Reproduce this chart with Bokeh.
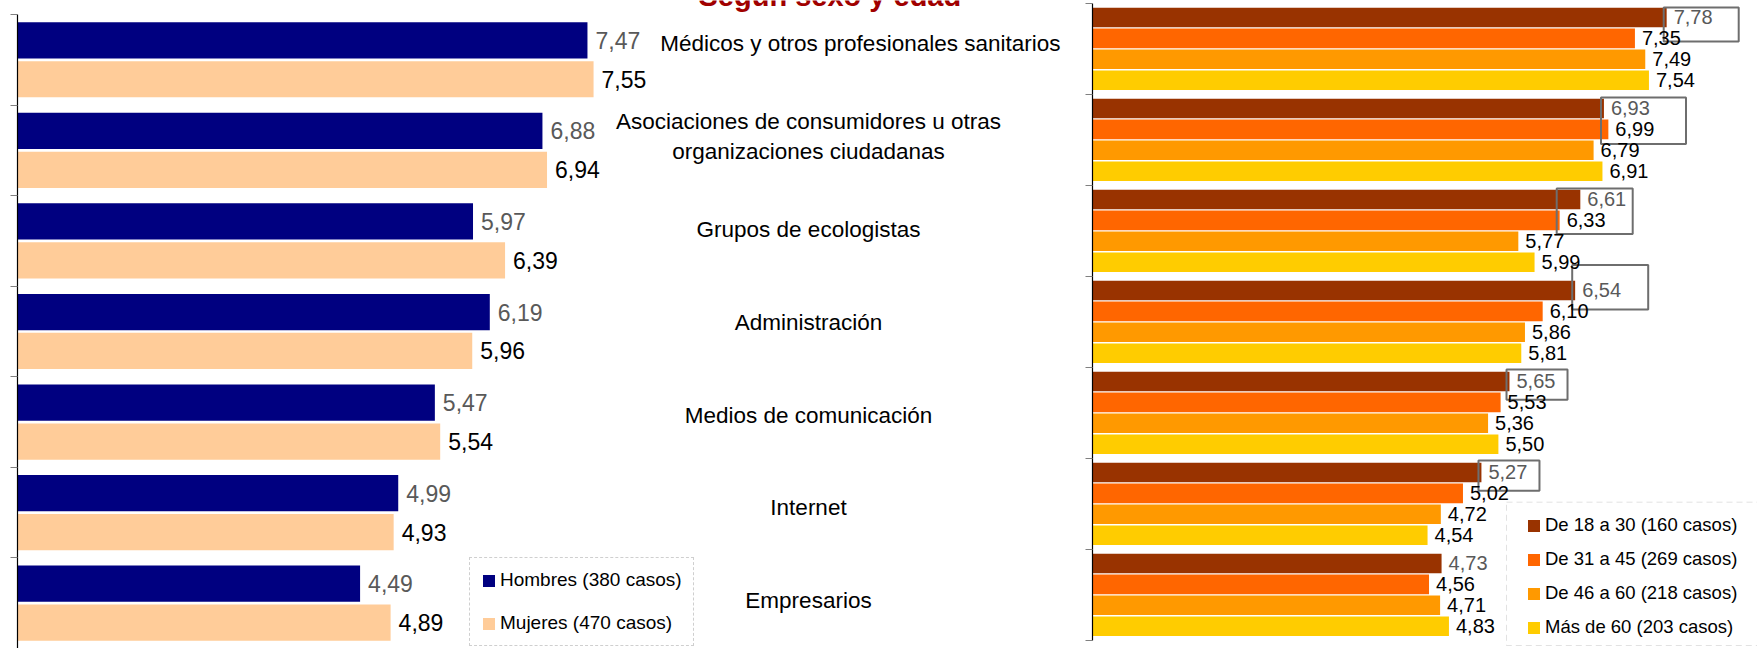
from bokeh.plotting import figure
from bokeh.models import Range1d, FixedTicker, Legend, LegendItem, ColumnDataSource, BoxAnnotation
from bokeh.layouts import row
from bokeh.embed import file_html
from bokeh.resources import INLINE
from bokeh.core.properties import value

# ---------------- data ----------------
categories = [
    "Médicos y otros profesionales sanitarios",
    "Asociaciones de consumidores u otras\norganizaciones ciudadanas",
    "Grupos de ecologistas",
    "Administración",
    "Medios de comunicación",
    "Internet",
    "Empresarios",
]
hombres = [7.47, 6.88, 5.97, 6.19, 5.47, 4.99, 4.49]
mujeres = [7.55, 6.94, 6.39, 5.96, 5.54, 4.93, 4.89]
edad_18_30 = [7.78, 6.93, 6.61, 6.54, 5.65, 5.27, 4.73]
edad_31_45 = [7.35, 6.99, 6.33, 6.10, 5.53, 5.02, 4.56]
edad_46_60 = [7.49, 6.79, 5.77, 5.86, 5.36, 4.72, 4.71]
edad_60_mas = [7.54, 6.91, 5.99, 5.81, 5.50, 4.54, 4.83]
sexo_labels = ["Hombres (380 casos)", "Mujeres (470 casos)"]
edad_labels = ["De 18 a 30 (160 casos)", "De 31 a 45 (269 casos)",
               "De 46 a 60 (218 casos)", "Más de 60 (203 casos)"]
title_text = "Según sexo y edad"

# ---------------- layout constants ----------------
FONT = "Liberation Sans"
W, H = 1757, 648
LW = 1084                 # width of the left figure
L_AXIS = 17               # pixel x of left value axis
L_PX = 76.3               # px per unit, left chart
L_TOP, L_STEP = 14.0, 90.57   # pixel y of first category boundary, px per category (left)
R_AXIS = 1092             # pixel x of right value axis
R_PX = 73.8               # px per unit, right chart
R_TOP, R_STEP = 3.3, 91.0     # same for right chart
CAT_TOP, CAT_STEP = 43.4, 92.8  # centre of first category label, spacing of labels
TITLE_MID = -5            # pixel y of the (mostly cut-off) title's middle
sexo_colors = ["#000080", "#FFCC99"]
sexo_text_colors = ["#595959", "#000000"]
edad_colors = ["#993300", "#FF6600", "#FF9900", "#FFCC00"]
edad_text_colors = ["#595959", "#000000", "#000000", "#000000"]
sexo_offsets = [0.285, 0.715]
edad_offsets = [0.15, 0.38, 0.61, 0.84]
label_center = (808 - L_AXIS) / L_PX
label_shift = [0.68, 0, 0, 0, 0, 0, 0]
# highlight boxes around 18-30 labels: series indices that set left edge, width px, top/bottom (group-relative)
box_series = [[0], [0, 1], [0, 1], [0], [0], [0]]
box_width_px = [75, 85, 76, 76, 61, 61]
box_top = [0.04, 0.03, 0.03, -0.13, 0.02, 0.02]
box_bottom = [0.415, 0.54, 0.53, 0.36, 0.35, 0.35]


def fmt(v):
    return f"{v:.2f}".replace(".", ",")


def style_axis(p, n):
    ax = p.yaxis[0]
    ticks = list(range(n + 1))
    ax.ticker = FixedTicker(ticks=ticks)
    ax.bounds = (0, n)
    ax.major_label_overrides = {t: "" for t in ticks}
    ax.major_label_standoff = 0
    ax.major_tick_out = 7
    ax.major_tick_in = 0
    ax.minor_tick_out = 0
    ax.minor_tick_in = 0
    ax.major_tick_line_color = "#808080"
    ax.axis_line_color = "#000000"
    ax.axis_line_width = 1.2
    p.grid.visible = False
    p.outline_line_color = None


n = len(categories)
idx = list(range(n))

# ---------------- left figure (sexo) ----------------
left = figure(width=LW, height=H, output_backend="svg", toolbar_location=None,
              x_range=Range1d(0, (LW - L_AXIS) / L_PX),
              y_range=Range1d((H - L_TOP) / L_STEP, -L_TOP / L_STEP),
              x_axis_location=None, min_border_left=L_AXIS, min_border_right=0,
              min_border_top=0, min_border_bottom=0)
style_axis(left, n)

sexo_series = [hombres, mujeres]
sexo_renderers = []
for k, vals in enumerate(sexo_series):
    src = ColumnDataSource(dict(y=[i + sexo_offsets[k] for i in idx], v=vals,
                                t=[fmt(v) for v in vals]))
    r = left.hbar(y="y", left=0, right="v", height=0.40, source=src,
                  fill_color=sexo_colors[k], line_color=None)
    sexo_renderers.append(r)
    left.text(x="v", y="y", text="t", source=src, x_offset=8, text_baseline="middle",
              text_align="left", text_font=value(FONT), text_font_size="23px",
              text_color=sexo_text_colors[k])

# category labels (spaced like the original labels)
left.extra_y_ranges = {"cat": Range1d(0.5 + (H - CAT_TOP) / CAT_STEP, 0.5 - CAT_TOP / CAT_STEP)}
left.text(x=[label_center + s for s in label_shift], y=[i + 0.5 for i in idx], text=categories,
          y_range_name="cat", text_align="center", text_baseline="middle",
          text_font=value(FONT), text_font_size="22.5px", text_color="#000000",
          text_line_height=1.2)

# title, cut off by the top edge as in the original picture
left.text(x=[(698 - L_AXIS) / L_PX], y=[(TITLE_MID - L_TOP) / L_STEP], text=[title_text],
          text_align="left", text_baseline="middle", text_font=value(FONT),
          text_font_size="29px", text_font_style="bold", text_color="#A00000")

leg_l = Legend(items=[LegendItem(label=sexo_labels[k], renderers=[sexo_renderers[k]]) for k in range(2)],
               location=(452, 2), margin=0, padding=11, spacing=21,
               glyph_width=15, glyph_height=15, label_standoff=4,
               label_text_font=FONT, label_text_font_size="19px", label_text_color="#000000",
               border_line_color="#A0A0A0", border_line_dash="6 4", border_line_width=1,
               background_fill_color="white", background_fill_alpha=1.0)
left.add_layout(leg_l)

# ---------------- right figure (edad) ----------------
RW = W - LW
right = figure(width=RW, height=H, output_backend="svg", toolbar_location=None,
               x_range=Range1d(0, (W - R_AXIS) / R_PX),
               y_range=Range1d((H - R_TOP) / R_STEP, -R_TOP / R_STEP),
               x_axis_location=None, min_border_left=R_AXIS - LW, min_border_right=0,
               min_border_top=0, min_border_bottom=0)
style_axis(right, n)

edad_series = [edad_18_30, edad_31_45, edad_46_60, edad_60_mas]
edad_renderers = []
edad_sources = []
for k, vals in enumerate(edad_series):
    src = ColumnDataSource(dict(y=[i + edad_offsets[k] for i in idx], v=vals,
                                t=[fmt(v) for v in vals]))
    r = right.hbar(y="y", left=0, right="v", height=0.215, source=src,
                   fill_color=edad_colors[k], line_color=None)
    edad_renderers.append(r)
    edad_sources.append(src)

# highlight boxes
bl, br, bt, bb = [], [], [], []
for g in range(len(box_series)):
    lft = min(edad_series[s][g] for s in box_series[g]) - 0.04
    bl.append(lft)
    br.append(lft + box_width_px[g] / R_PX)
    bt.append(g + box_top[g])
    bb.append(g + box_bottom[g])
right.quad(left=bl, right=br, top=bt, bottom=bb, fill_alpha=0,
           line_color="#6E6E6E", line_width=2)

for k, src in enumerate(edad_sources):
    right.text(x="v", y="y", text="t", source=src, x_offset=7, text_baseline="middle",
               text_align="left", text_font=value(FONT), text_font_size="20px",
               text_color=edad_text_colors[k])

# dashed frame of the age legend (wider inner margin than Bokeh's legend padding allows)
right.add_layout(BoxAnnotation(left=(1506 - R_AXIS) / R_PX, right=(W + 40 - R_AXIS) / R_PX,
                               top=(501.7 - R_TOP) / R_STEP, bottom=(645 - R_TOP) / R_STEP,
                               fill_color="white", fill_alpha=1.0, line_color="#A0A0A0",
                               line_dash="6 4", line_width=1))

leg_r = Legend(items=[LegendItem(label=edad_labels[k], renderers=[edad_renderers[k]]) for k in range(4)],
               location=(434, 10), margin=0, padding=9, spacing=12,
               glyph_width=15, glyph_height=15, label_standoff=4,
               label_text_font=FONT, label_text_font_size="18.5px", label_text_color="#000000",
               border_line_color=None, background_fill_alpha=0.0)
right.add_layout(leg_r)

layout = row(left, right)

open("out.html", "w").write(file_html(layout, INLINE))
